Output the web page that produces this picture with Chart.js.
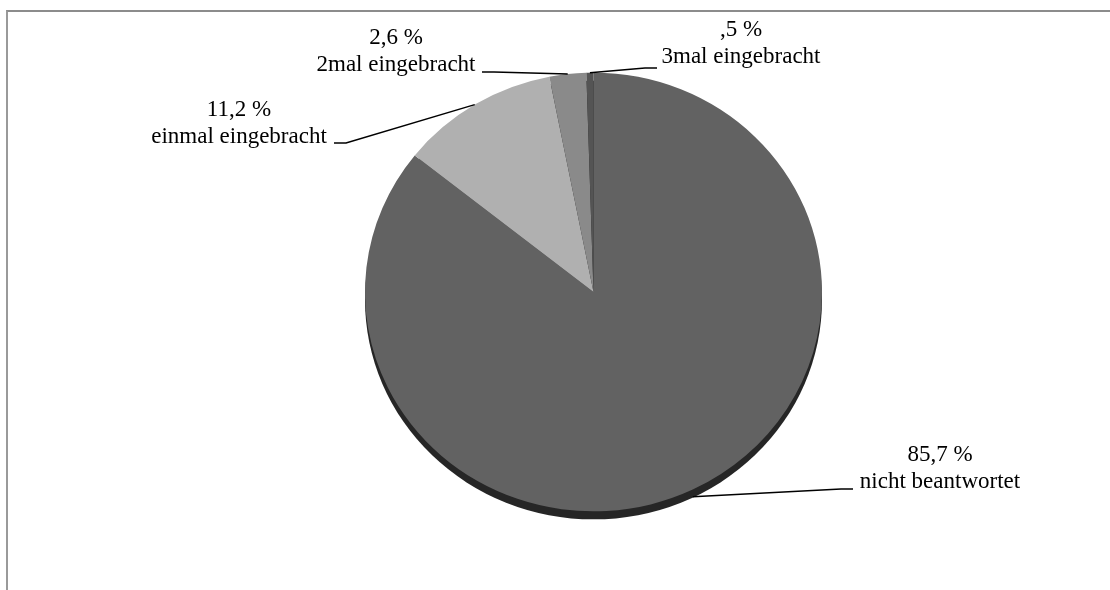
<!DOCTYPE html>
<html lang="de">
<head>
    <meta charset="UTF-8">
    <title>Antworten</title>
    <script src="https://cdn.jsdelivr.net/npm/chart.js"></script>
    <style>
        body {
            margin: 0;
            background-color: #fff;
        }

        .wrap {
            position: relative;
            width: 1110px;
            height: 590px;
            overflow: hidden;
        }

        /* frame of the chart box, only top and left edge are visible */
        .frame {
            position: absolute;
            left: 6px;
            top: 10px;
            width: 1200px;
            height: 700px;
            border-left: 2px solid #9a9a9a;
            border-top: 2px solid #8c8c8c;
        }

        canvas {
            position: absolute;
            left: 0;
            top: 0;
        }
    </style>
</head>
<body>
    <div class="wrap">
        <div class="frame"></div>
        <canvas id="pieChart" width="1110" height="590"></canvas>
    </div>

    <script>
        // Data
        const categories = ['nicht beantwortet', 'einmal eingebracht', '2mal eingebracht', '3mal eingebracht'];
        const percents = [85.7, 11.2, 2.6, 0.5];
        const sliceColors = ['#626262', '#b0b0b0', '#8a8a8a', '#545454'];

        // where each label sits (text centre x, baseline of 2nd line) and where its leader line ends
        const labelPos = [
            { x: 940, y: 488, ex: 853, ey: 489, dir: -1 },
            { x: 239, y: 143, ex: 334, ey: 143, dir: 1 },
            { x: 396, y: 71, ex: 482, ey: 72, dir: 1 },
            { x: 741, y: 63, ex: 657, ey: 68, dir: -1 },
        ];

        const squash = 0.96;   // pie is drawn slightly flattened
        const depth = 8;       // visible side of the pie at the bottom

        function fmt(v) {
            return v.toFixed(1).replace('.', ',').replace(/^0/, '') + ' %';
        }

        const pieLook = {
            id: 'pieLook',
            beforeDatasetsDraw(chart) {
                const ctx = chart.ctx;
                const arc = chart.getDatasetMeta(0).data[0];
                const cx = arc.x, cy = arc.y, r = arc.outerRadius;
                // dark side underneath
                ctx.save();
                ctx.fillStyle = '#262626';
                ctx.beginPath();
                ctx.ellipse(cx, cy + depth, r, r * squash, 0, 0, Math.PI * 2);
                ctx.fill();
                ctx.restore();

                ctx.save();
                ctx.translate(cx, cy);
                ctx.scale(1, squash);
                ctx.translate(-cx, -cy);
            },
            afterDatasetsDraw(chart) {
                const ctx = chart.ctx;
                ctx.restore();

                const meta = chart.getDatasetMeta(0);
                ctx.save();
                ctx.font = '23px "Liberation Serif", "Times New Roman", serif';
                ctx.fillStyle = '#000';
                ctx.textAlign = 'center';
                ctx.textBaseline = 'alphabetic';
                ctx.strokeStyle = '#000';
                ctx.lineWidth = 1.5;

                meta.data.forEach((arc, i) => {
                    const p = labelPos[i];
                    const mid = (arc.startAngle + arc.endAngle) / 2;
                    const ax = arc.x + Math.cos(mid) * arc.outerRadius;
                    const sy = Math.sin(mid);
                    const ay = arc.y + sy * arc.outerRadius * squash + (sy > 0 ? depth * sy : 0);

                    ctx.beginPath();
                    ctx.moveTo(p.ex, p.ey);
                    ctx.lineTo(p.ex + p.dir * 12, p.ey);
                    ctx.lineTo(ax, ay);
                    ctx.stroke();

                    ctx.fillText(fmt(percents[i]), p.x, p.y - 27);
                    ctx.fillText(categories[i], p.x, p.y);
                });
                ctx.restore();
            }
        };

        const pieChart = new Chart(document.getElementById('pieChart'), {
            type: 'pie',
            data: {
                labels: categories,
                datasets: [{
                    data: percents,
                    backgroundColor: sliceColors,
                    borderWidth: 0,
                }]
            },
            options: {
                responsive: false,
                animation: false,
                layout: {
                    padding: { left: 365, right: 288, top: 63.5, bottom: 69.5 }
                },
                plugins: {
                    legend: { display: false },
                    tooltip: { enabled: false },
                },
            },
            plugins: [pieLook],
        });
    </script>
</body>
</html>
